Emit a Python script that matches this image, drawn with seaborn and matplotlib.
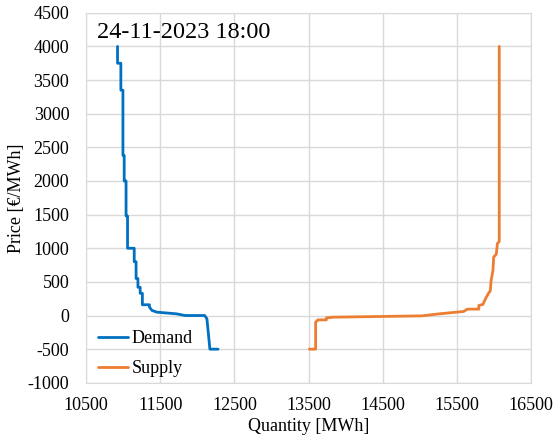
import pandas as pd
import matplotlib.pyplot as plt
import seaborn as sns

# Demand curve (stepwise)
demand_q = [10925, 10925, 10970, 10970, 10998, 10998, 11015, 11015, 11040, 11040,
            11060, 11060, 11150, 11150, 11175, 11175, 11200, 11200, 11230, 11230,
            11260, 11260, 11355, 11355, 11390, 11455, 11720, 11835, 12100, 12130,
            12170, 12280]
demand_p = [4000, 3750, 3750, 3350, 3350, 2380, 2380, 2000, 2000, 1480,
            1480, 1000, 1000, 800, 800, 550, 550, 420, 420, 330,
            330, 160, 160, 125, 75, 50, 25, 0, 0, -50,
            -500, -500]

# Supply curve
supply_q = [13510, 13595, 13595, 13625, 13740, 13740, 13830, 15030, 15260, 15590,
            15640, 15795, 15795, 15850, 15885, 15920, 15950, 15960, 15985, 15995,
            16030, 16045, 16070, 16070]
supply_p = [-500, -500, -100, -65, -65, -35, -25, -5, 25, 60,
            95, 95, 150, 165, 250, 320, 370, 520, 670, 870,
            910, 1070, 1100, 4000]

df = pd.concat([
    pd.DataFrame({"Quantity": demand_q, "Price": demand_p, "Curve": "Demand"}),
    pd.DataFrame({"Quantity": supply_q, "Price": supply_p, "Curve": "Supply"}),
])

sns.set_style("whitegrid", {"grid.color": "#d9d9d9", "axes.edgecolor": "#d9d9d9"})
plt.rcParams["font.family"] = ["Liberation Serif", "DejaVu Serif"]
plt.rcParams["axes.unicode_minus"] = False
plt.rcParams["text.color"] = "black"
plt.rcParams["axes.labelcolor"] = "black"
plt.rcParams["xtick.color"] = "black"
plt.rcParams["ytick.color"] = "black"

fig = plt.figure(figsize=(5.53, 4.41), dpi=100)
ax = fig.add_axes([0.1555, 0.132, 0.805, 0.839])

sns.lineplot(data=df, x="Quantity", y="Price", hue="Curve", sort=False,
             estimator=None, units="Curve", palette={"Demand": "#0070C0", "Supply": "#ED7D31"},
             linewidth=2, ax=ax)

ax.set_xlim(10500, 16500)
ax.set_ylim(-1000, 4500)
ax.set_xticks(range(10500, 16501, 1000))
ax.set_yticks(range(-1000, 4501, 500))
ax.tick_params(labelsize=13, length=0)
ax.tick_params(axis="x", pad=10)
ax.tick_params(axis="y", pad=12)
ax.set_xlabel("Quantity [MWh]", fontsize=13, labelpad=3)
ax.set_ylabel("Price [€/MWh]", fontsize=13, labelpad=2)
ax.grid(True, color="#d9d9d9", linewidth=1)
for s in ax.spines.values():
    s.set_color("#d9d9d9")

ax.text(0.025, 0.975, "24-11-2023 18:00", transform=ax.transAxes, fontsize=17.5,
        va="top", ha="left")

leg = ax.legend(loc="lower left", frameon=False, fontsize=13, title=None,
                handlelength=1.7, handletextpad=0.2, labelspacing=0.75,
                borderaxespad=0.0, bbox_to_anchor=(0.01, -0.005))

plt.savefig("out.png", dpi=100)
